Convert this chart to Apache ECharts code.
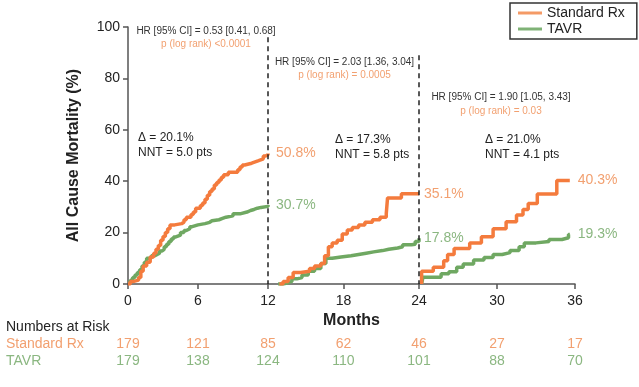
<!DOCTYPE html>
<html><head><meta charset="utf-8">
<script src="https://cdn.jsdelivr.net/npm/echarts@6/dist/echarts.min.js"></script>
<style>html,body{margin:0;padding:0;background:#fff}#c{width:639px;height:387px}</style>
</head><body><div id="c"></div>
<script>
// ---- data ----
const riskMonths = [0, 6, 12, 18, 24, 30, 36];
const riskStd = [179, 121, 85, 62, 46, 27, 17];
const riskTavr = [179, 138, 124, 110, 101, 88, 70];
const seriesNames = ['Standard Rx', 'TAVR'];

// period 1 (0-12 months)
const stdP1 = [[0,0],[0.2,1],[0.5,1.5],[0.9,2.5],[1.1,5],[1.3,7],[1.6,8.5],[1.9,10.5],[2.2,12],[2.4,13.5],[2.6,15],[2.8,17],[3.0,18.5],[3.2,20],[3.4,21.5],[3.6,23],[4.0,23.5],[4.6,24],[4.8,25],[5.0,26],[5.4,27],[5.6,28],[5.8,29.5],[6.2,30.5],[6.4,31.5],[6.6,33],[6.8,34.5],[7.0,36],[7.2,37],[7.4,38.5],[7.6,39.5],[7.8,40.5],[8.0,41.5],[8.2,42.5],[8.6,43.5],[9.2,43.5],[9.4,44.5],[9.6,45.5],[9.8,46.3],[10.0,47],[10.6,47.5],[10.9,48],[11.2,48.7],[11.6,49.8],[11.8,50.3],[12,50.8]];
const tavrP1 = [[0,0.5],[0.2,1.5],[0.4,2.5],[0.6,3.5],[0.8,4.5],[1.0,5.5],[1.2,7],[1.4,8.5],[1.6,10],[2.0,11],[2.3,11.5],[2.5,12],[2.7,12.8],[2.9,13.5],[3.1,14.5],[3.3,15.5],[3.5,16.5],[3.7,17.5],[3.9,18.3],[4.1,19],[4.5,20],[4.8,20.8],[5.0,21.5],[5.3,22.3],[5.5,23],[6.0,23.5],[6.6,24],[7.0,24.6],[7.2,25],[7.8,25.5],[8.1,26],[8.4,26.5],[9.0,27.3],[9.6,28],[10.2,28.6],[10.5,29],[10.8,29.5],[11.1,29.8],[11.4,30.2],[12,30.7]];
// period 2 (12-24 months)
const stdP2 = [[12.9,0],[13.2,1],[13.6,2.5],[14.0,4.5],[14.6,5],[15.3,6],[15.7,7],[16.2,8],[16.5,11],[16.8,14.5],[17.1,16],[17.5,17],[17.9,19.5],[18.3,21],[18.7,22],[19.2,23],[19.7,24],[20.3,25],[20.9,26],[21.4,27.5],[21.5,33.5],[22.6,35.1],[24,35.1]];
const tavrP2 = [[12.8,0],[13.2,0.5],[13.6,1],[13.9,2],[14.3,2.5],[14.7,3.5],[15.2,5],[15.7,6],[16.2,8],[16.6,10],[17.1,10.5],[17.8,11],[18.6,11.5],[19.2,12],[19.8,12.5],[20.4,13],[21.1,13.5],[21.6,14],[22.3,14.5],[22.7,15.3],[23.4,15.5],[23.7,16.5],[24,17.8]];
// period 3 (24-36 months)
const stdP3 = [[24.2,0],[24.2,5],[25.1,6.5],[25.9,9],[26.2,11.5],[26.7,13.8],[27.9,16],[28.8,18.4],[29.7,21.5],[30.7,24.2],[31.5,26.8],[32.0,29],[32.4,31.3],[33.1,35],[34.6,40.3],[35.6,40.3]];
const tavrP3 = [[24.2,0],[24.3,2.6],[25.7,4],[26.3,4.8],[26.9,6.5],[27.4,7.8],[28.2,9.3],[29.0,10.3],[29.7,11.5],[30.4,12.2],[31.0,13],[31.7,14.5],[32.1,16],[33.0,16.5],[34.0,17.3],[35.0,18],[35.5,19.3],[35.6,19.3]];

// annotation texts
const hrTexts = ['HR [95% CI] = 0.53 [0.41, 0.68]', 'HR [95% CI] = 2.03 [1.36, 3.04]', 'HR [95% CI] = 1.90 [1.05, 3.43]'];
const pTexts = ['p (log rank) <0.0001', 'p (log rank) = 0.0005', 'p (log rank) = 0.03'];
const deltaTexts = ['\u0394 = 20.1%', '\u0394 = 17.3%', '\u0394 = 21.0%'];
const nntTexts = ['NNT = 5.0 pts', 'NNT = 5.8 pts', 'NNT = 4.1 pts'];
const landmarks = [12, 24];

// ---- styling ----
const FONT = "'Liberation Sans', Arial, Helvetica, sans-serif";
const ORANGE = '#F47B3D', GREEN = '#6FA862';
const ORANGE_T = '#F2A070', GREEN_T = '#8BB781';
const AX = '#555555', TXT = '#222222';

const chart = echarts.init(document.getElementById('c'), null, {renderer: 'canvas'});

const grids = [
  {left: 128, top: 27, width: 140, height: 257},
  {left: 268, top: 27, width: 151, height: 257},
  {left: 419, top: 27, width: 156, height: 257}
];
const ranges = [[0, 12], [12, 24], [24, 36]];

const xAxes = ranges.map((r, i) => ({
  type: 'value', gridIndex: i, min: r[0], max: r[1], interval: 6,
  axisLine: {show: true, lineStyle: {color: AX, width: 1.5}},
  axisTick: {show: true, length: 5, lineStyle: {color: AX, width: 1.5}},
  axisLabel: {show: true, showMinLabel: i === 0, margin: 10, color: TXT, fontSize: 14, fontFamily: FONT},
  splitLine: {show: false}
}));
const yAxes = ranges.map((r, i) => ({
  type: 'value', gridIndex: i, min: 0, max: 100, interval: 20, show: i === 0,
  name: i === 0 ? 'All Cause Mortality (%)' : '',
  nameLocation: 'middle', nameGap: 46,
  nameTextStyle: {color: TXT, fontSize: 16, fontWeight: 'bold', fontFamily: FONT},
  axisLine: {show: true, lineStyle: {color: AX, width: 1.5}},
  axisTick: {show: true, length: 5, lineStyle: {color: AX, width: 1.5}},
  axisLabel: {color: TXT, fontSize: 14, fontFamily: FONT, margin: 8},
  splitLine: {show: false}
}));

function km(name, data, idx, color, labelColor, dist, extra) {
  return Object.assign({
    type: 'line', name: name, data: data, xAxisIndex: idx, yAxisIndex: idx,
    step: 'end', showSymbol: false, symbol: 'none', animation: false,
    lineStyle: {width: 3.5, color: color}, itemStyle: {color: color},
    endLabel: {show: true, formatter: p => p.value[1].toFixed(1) + '%', color: labelColor,
               fontSize: 14, fontFamily: FONT, distance: dist}
  }, extra || {});
}
function dashed(x, top) {
  return {silent: true, symbol: ['none', 'none'], label: {show: false},
    lineStyle: {color: '#222', type: [5, 4], width: 1.5},
    data: [[{coord: [x, top]}, {coord: [x, 0]}]]};
}

const series = [
  km(seriesNames[1], tavrP1, 0, GREEN, GREEN_T, 8),
  km(seriesNames[0], stdP1, 0, ORANGE, ORANGE_T, 8, {markLine: dashed(landmarks[0], 96)}),
  km(seriesNames[1], tavrP2, 1, GREEN, GREEN_T, 5),
  km(seriesNames[0], stdP2, 1, ORANGE, ORANGE_T, 5, {markLine: dashed(landmarks[1], 89)}),
  km(seriesNames[1], tavrP3, 2, GREEN, GREEN_T, 8),
  km(seriesNames[0], stdP3, 2, ORANGE, ORANGE_T, 8)
];

chart.setOption({
  animation: false,
  backgroundColor: '#ffffff',
  grid: grids,
  xAxis: xAxes,
  yAxis: yAxes,
  legend: {
    orient: 'vertical', left: 510, top: 3,
    padding: [3, 12, 3, 8], itemGap: 2, itemWidth: 24, itemHeight: 3, icon: 'rect',
    borderColor: '#333', borderWidth: 1.5, borderRadius: 0,
    textStyle: {color: TXT, fontSize: 14, fontFamily: FONT},
    data: [
      {name: seriesNames[0], itemStyle: {color: '#F49A66'}},
      {name: seriesNames[1], itemStyle: {color: '#7FB276'}}
    ]
  },
  series: series
});

// ---- annotations ----
const g = [];
function txt(text, x, y, size, color, align, weight) {
  g.push({type: 'text', silent: true, style: {
    text: text, x: x, y: y, fill: color,
    font: (weight || 'normal') + ' ' + size + 'px ' + FONT,
    align: align || 'left', textAlign: align || 'left',
    verticalAlign: 'middle', textVerticalAlign: 'middle'
  }});
}
const hrPos = [[206, 31, 44], [344.5, 62, 75], [501, 97, 111]];
hrPos.forEach((p, i) => {
  txt(hrTexts[i], p[0], p[1], 10, '#333', 'center');
  txt(pTexts[i], p[0], p[2], 10, ORANGE_T, 'center');
});
const dPos = [[138, 138], [335, 140], [485, 140]];
dPos.forEach((p, i) => {
  txt(deltaTexts[i], p[0], p[1], 12, TXT);
  txt(nntTexts[i], p[0], p[1] + 15, 12, TXT);
});
txt('Months', 351.5, 321, 16, TXT, 'center', 'bold');
txt('Numbers at Risk', 6, 327, 14, TXT);
txt(seriesNames[0], 6, 344, 14, ORANGE_T);
txt(seriesNames[1], 6, 361, 14, GREEN_T);
riskMonths.forEach((m, i) => {
  const gi = m <= 12 ? 0 : (m <= 24 ? 1 : 2);
  const px = chart.convertToPixel({xAxisIndex: gi}, m);
  txt(String(riskStd[i]), px, 344, 14, ORANGE_T, 'center');
  txt(String(riskTavr[i]), px, 361, 14, GREEN_T, 'center');
});
chart.setOption({graphic: {elements: g}});
</script></body></html>
